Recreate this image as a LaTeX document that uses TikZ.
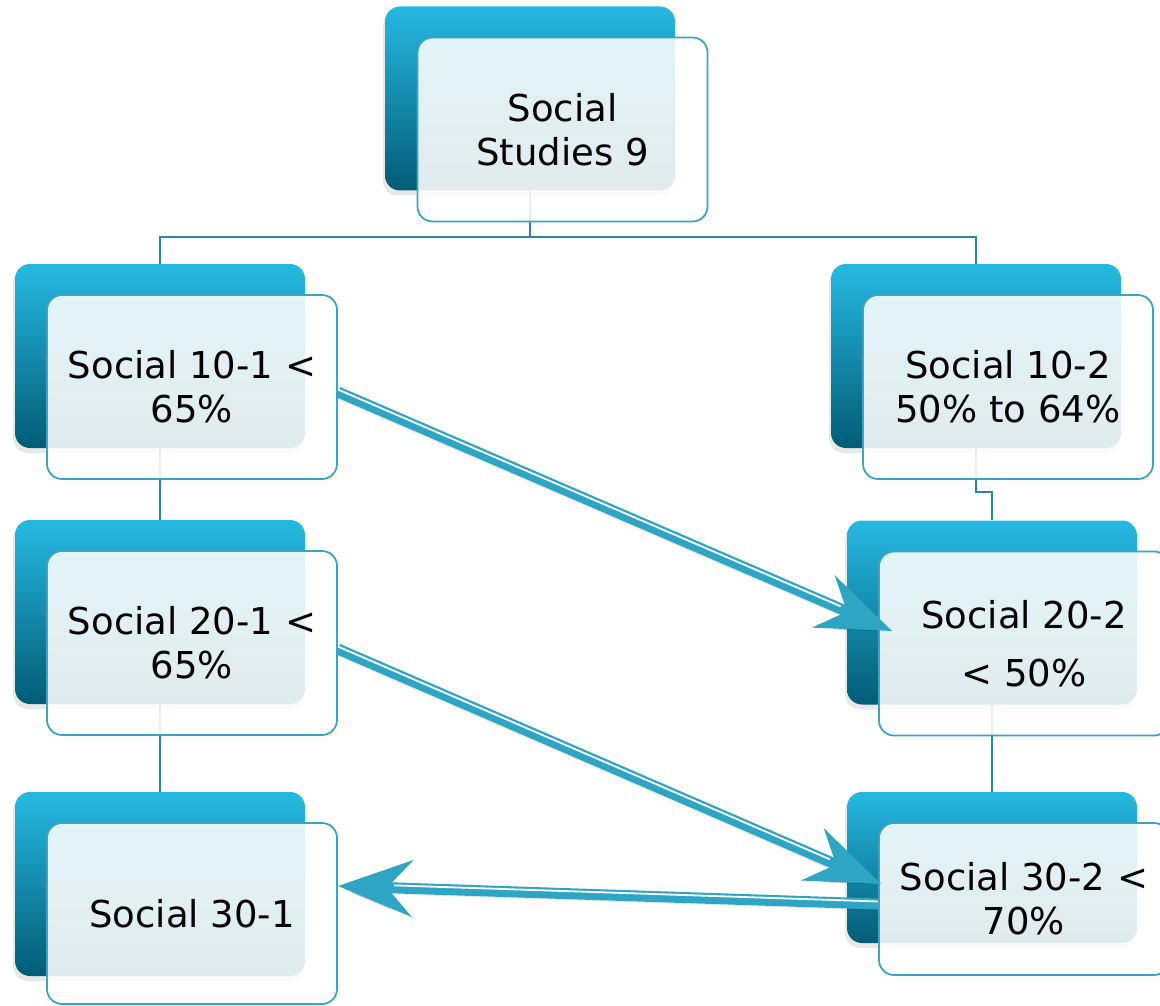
\documentclass[tikz,border=0pt]{standalone}
\usepackage{fontspec}
\setmainfont{DejaVu Sans}
\usetikzlibrary{arrows.meta,shadows}
\definecolor{boxtop}{HTML}{27B9E2}
\definecolor{boxbot}{HTML}{035C76}
\definecolor{boxline}{HTML}{3AA5C3}
\definecolor{linkteal}{HTML}{2C86A0}
\definecolor{arrowteal}{HTML}{2EA5C3}

\begin{document}
\begin{tikzpicture}[x=1pt,y=1pt,
  back/.style={rounded corners=15pt, minimum width=290pt, minimum height=184pt,
    inner sep=0pt, top color=boxtop, bottom color=boxbot, draw=none,
    drop shadow={shadow xshift=-2pt, shadow yshift=-5pt, opacity=0.18}},
  front/.style={rounded corners=15pt, minimum width=290pt, minimum height=184pt,
    inner sep=0pt, draw=boxline, line width=1.8pt, fill=white, fill opacity=0.88,
    text opacity=1, align=center, font=\fontsize{37}{44}\selectfont},
  link/.style={draw=linkteal, line width=2.5pt},
  jump/.style={draw=arrowteal, line width=11pt,
    -{Stealth[length=74pt,width=56pt,inset=25pt]},
    preaction={draw=black, opacity=0.15, transform canvas={shift={(-2pt,-6pt)}}},
    postaction={draw=white, line width=1.8pt, arrows=-, shorten >=56pt,
      transform canvas={yshift=2.5pt}}}]
\useasboundingbox (0,0) rectangle (1160,-1006);

% back boxes
\node[back] (ss9b) at (530,-98.5) {};
\node[back] (s101b) at (160,-356) {};
\node[back] (s201b) at (160,-612) {};
\node[back] (s301b) at (160,-884) {};
\node[back] (s102b) at (976,-356) {};
\node[back] (s202b) at (992,-612.5) {};
\node[back,minimum height=151pt] (s302b) at (992,-867.5) {};

% tree lines
\coordinate (split) at (530,-237);
\draw[link] (ss9b.south) -- (split) -| (s101b.north);
\draw[link] (split) -| (s102b.north);
\draw[link] (s101b.south) -- (s201b.north);
\draw[link] (s201b.south) -- (s301b.north);
\draw[link] (s102b.south) -- ++(0,-44) -| (s202b.north);
\draw[link] (s202b.south) -- (s302b.north);

% front boxes
\node[front] (ss9f) at (562.5,-129.5) {Social\\Studies 9};
\node[front] (s101f) at (192,-387) {Social 10-1 <\\65\%};
\node[front] (s201f) at (192,-643) {Social 20-1 <\\65\%};
\node[front,minimum height=181pt] (s301f) at (192,-913.5) {Social 30-1};
\node[front] (s102f) at (1008,-387) {Social 10-2\\50\% to 64\%};
\node[front] (s202f) at (1024,-643.5) {Social 20-2\\[14pt]< 50\%};
\node[front,minimum height=152pt] (s302f) at (1024,-899) {Social 30-2 <\\70\%};

% moves between streams
\draw[jump] ([yshift=-5pt]s101f.east) -- ([shift={(14,12.5)}]s202f.west);
\draw[jump] ([yshift=-5pt]s302f.west) -- ([yshift=27.5pt]s301f.east);
\draw[jump] ([yshift=-6pt]s201f.east) -- ([shift={(3,15)}]s302f.west);
\end{tikzpicture}
\end{document}
